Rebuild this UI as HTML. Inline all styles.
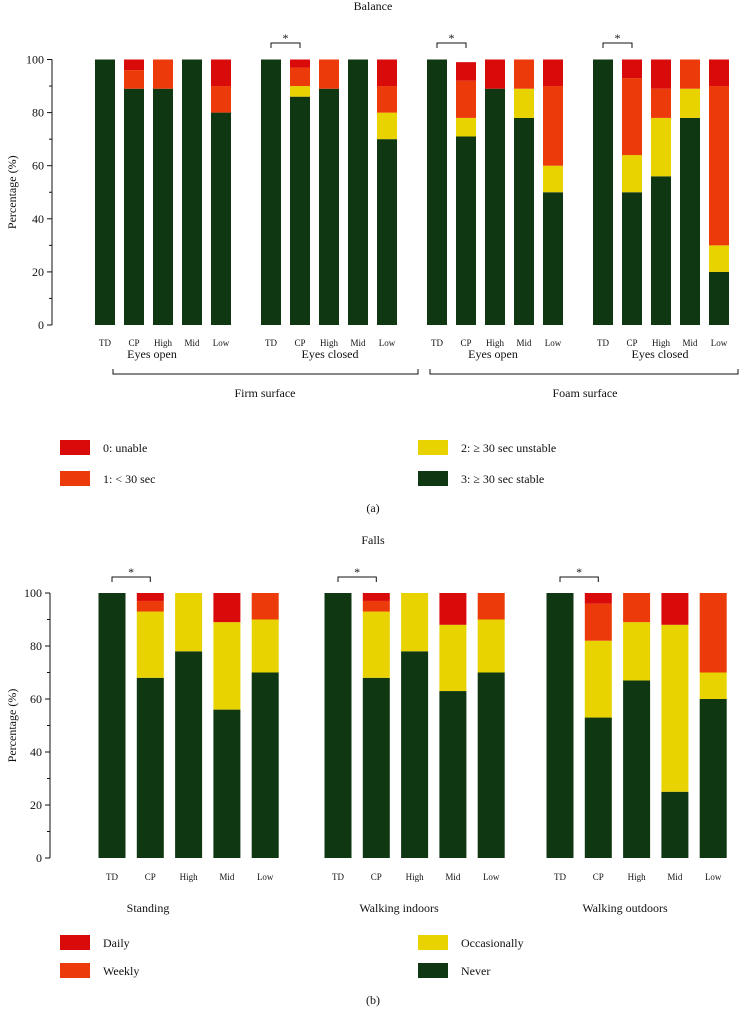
<!DOCTYPE html>
<html><head><meta charset="utf-8"><style>
body{margin:0;background:#fff;}
svg{display:block;font-family:"Liberation Serif",serif;}
</style></head><body>
<svg id="c" width="746" height="1011"></svg>
<script>
const NS="http://www.w3.org/2000/svg";
const svg=document.getElementById('c');
const colors=["#0e3712","#e8d300","#ec3a0a","#d90a0a"];
// Balance chart data: stable, unstable, <30 sec, unable
const balCats=["TD","CP","High","Mid","Low"];
const balGroups=["Firm EO","Firm EC","Foam EO","Foam EC"];
const balStable=[[100,89,89,100,80],[100,86,89,100,70],[100,71,89,78,50],[100,50,56,78,20]];
const balUnstable=[[0,0,0,0,0],[0,4,0,0,10],[0,7,0,11,10],[0,14,22,11,10]];
const balShort=[[0,7,11,0,10],[0,7,11,0,10],[0,14,0,11,30],[0,29,11,11,60]];
const balUnable=[[0,4,0,0,10],[0,3,0,0,10],[0,7,11,0,10],[0,7,11,0,10]];
// Falls chart data: never, occasionally, weekly, daily
const fallGroups=["Standing","Walking indoors","Walking outdoors"];
const fallNever=[[100,68,78,56,70],[100,68,78,63,70],[100,53,67,25,60]];
const fallOcc=[[0,25,22,33,20],[0,25,22,25,20],[0,29,22,63,10]];
const fallWeekly=[[0,4,0,0,10],[0,4,0,0,10],[0,14,11,0,30]];
const fallDaily=[[0,3,0,11,0],[0,3,0,12,0],[0,4,0,12,0]];
const yTicks=[0,20,40,60,80,100];

function el(tag,attrs,parent){const e=document.createElementNS(NS,tag);for(const k in attrs)e.setAttribute(k,attrs[k]);(parent||svg).appendChild(e);return e;}
function txt(x,y,s,size,anchor,parent){const t=el('text',{x:x,y:y,'font-size':size,'text-anchor':anchor||'middle',fill:'#111'},parent);t.textContent=s;return t;}

function chart(cfg){
  const g=el('g',{});
  
  
  const yS=v=>cfg.y0-(cfg.y0-cfg.y100)*v/100;
  el('line',{x1:cfg.ax,x2:cfg.ax,y1:cfg.y0,y2:cfg.y100,stroke:'#111','stroke-width':1},g);
  for(let v=0;v<=100;v+=10){el('line',{x1:cfg.ax-(v%20==0?5:3),x2:cfg.ax,y1:yS(v),y2:yS(v),stroke:'#111'},g);}
  yTicks.forEach(v=>{const t=txt(cfg.ax-8,yS(v)+4,String(v),12,'end',g);});
  const yt=txt(0,0,'Percentage (%)',12,'middle',g);
  yt.setAttribute('transform',`translate(16,${(cfg.y0+cfg.y100)/2}) rotate(-90)`);
  
  cfg.series[0].forEach((grp,gi)=>{
    grp.forEach((_,ci)=>{
      const cx=cfg.gx[gi]+ci*cfg.step;
      let acc=0;
      cfg.series.forEach((s,si)=>{
        const v=s[gi][ci];
        if(v>0){
          const r=el('rect',{x:cx-cfg.bw/2,y:yS(acc+v),width:cfg.bw,height:yS(acc)-yS(acc+v),fill:colors[si]},g);
          
          
        }
        acc+=v;
      });
      const l=txt(cx,cfg.labelY,balCats[ci],9,'middle',g);
      
    });
  });
  cfg.stars.forEach(gi=>{
    const x1=cfg.gx[gi],x2=cfg.gx[gi]+cfg.step,y=cfg.starY;
    el('path',{d:`M${x1},${y+5}V${y}H${x2}V${y+5}`,fill:'none',stroke:'#111'},g);
    const s=txt((x1+x2)/2,y-1,'*',12,'middle',g);
    
  });
}

const t1=txt(373,10,'Balance',12);
chart({name:'balance-chart',ax:52,y0:325,y100:59.5,gx:[105,271,437,603],step:29,bw:20,labelY:346,
  series:[balStable,balUnstable,balShort,balUnable],segNames:['stable','unstable','short','unable'],stars:[1,2,3],starY:43});
[["Eyes open",152],["Eyes closed",330],["Eyes open",493],["Eyes closed",660]].forEach(a=>{const t=txt(a[1],358,a[0],12);});
el('path',{d:'M113,369V374H418V369',fill:'none',stroke:'#111'});
el('path',{d:'M430,369V374H738V369',fill:'none',stroke:'#111'});
[["Firm surface",265],["Foam surface",585]].forEach(a=>{const t=txt(a[1],397,a[0],12);});

function legend(items){items.forEach(it=>{
  const r=el('rect',{x:it[0],y:it[1]-8,width:30,height:15,fill:it[2]});
  
  const t=txt(it[0]+43,it[1]+4,it[3],12,'start');
});}
legend([[60,448,colors[3],'0: unable'],[60,479,colors[2],'1: < 30 sec'],[418,448,colors[1],'2: ≥ 30 sec unstable'],[418,479,colors[0],'3: ≥ 30 sec stable']]);
const a=txt(373,512,'(a)',12);

const t2=txt(373,544,'Falls',12);
chart({name:'falls-chart',ax:50,y0:858,y100:593,gx:[112,338,560],step:38.3,bw:27,labelY:880,
  series:[fallNever,fallOcc,fallWeekly,fallDaily],segNames:['never','occasionally','weekly','daily'],stars:[0,1,2],starY:577});
[["Standing",148],["Walking indoors",399],["Walking outdoors",625]].forEach(a=>{const t=txt(a[1],912,a[0],12);});
legend([[60,943,colors[3],'Daily'],[60,971,colors[2],'Weekly'],[418,943,colors[1],'Occasionally'],[418,971,colors[0],'Never']]);
const b=txt(373,1004,'(b)',12);
</script>
</body></html>
